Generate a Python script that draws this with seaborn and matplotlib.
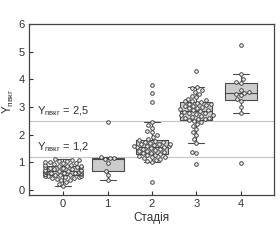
import numpy as np
import pandas as pd
import matplotlib
matplotlib.use("Agg")
import matplotlib.pyplot as plt
import seaborn as sns

stages = ["0", "1", "2", "3", "4"]
stage0 = [0.16, 0.22, 0.30, 0.35, 0.38, 0.40, 0.42, 0.45, 0.47, 0.48, 0.50, 0.51, 0.52, 0.53,
          0.55, 0.56, 0.57, 0.58, 0.59, 0.60, 0.61, 0.62, 0.63, 0.64, 0.65, 0.66, 0.67, 0.68,
          0.69, 0.70, 0.72, 0.73, 0.75, 0.76, 0.78, 0.80, 0.82, 0.84, 0.85, 0.86, 0.87, 0.88,
          0.90, 0.92, 0.94, 0.96, 0.98, 1.00, 1.02, 1.04, 1.06, 1.08, 1.10, 1.12]
stage1 = [0.38, 0.55, 0.70, 0.98, 1.12, 1.14, 1.17, 1.21, 2.47]
stage2 = [0.30, 1.00, 1.05, 1.10, 1.12, 1.15, 1.18, 1.20, 1.22, 1.25, 1.28, 1.30, 1.32, 1.35,
          1.38, 1.40, 1.42, 1.45, 1.48, 1.50, 1.52, 1.55, 1.55, 1.58, 1.60, 1.60, 1.62, 1.65,
          1.65, 1.68, 1.70, 1.72, 1.75, 1.78, 1.80, 1.85, 1.92, 2.00, 2.08, 2.15, 2.25, 2.35,
          2.45, 3.17, 3.51, 3.79]
stage3 = [0.94, 1.35, 1.36, 1.71, 1.85, 2.00, 2.10, 2.20, 2.30, 2.38, 2.45, 2.50, 2.52, 2.55,
          2.58, 2.60, 2.62, 2.65, 2.68, 2.70, 2.72, 2.75, 2.78, 2.80, 2.82, 2.85, 2.88, 2.90,
          2.92, 2.95, 2.98, 3.00, 3.02, 3.05, 3.08, 3.10, 3.12, 3.15, 3.18, 3.20, 3.22, 3.25,
          3.30, 3.35, 3.40, 3.48, 3.55, 3.62, 3.68, 3.73, 4.30]
stage4 = [0.99, 2.80, 3.00, 3.20, 3.30, 3.42, 3.48, 3.52, 3.55, 3.62, 3.85, 3.92, 4.00, 4.21, 5.23]
thresholds = [2.5, 1.2]
threshold_labels = ["2,5", "1,2"]

groups = [stage0, stage1, stage2, stage3, stage4]
df = pd.DataFrame({
    "stage": [s for s, g in zip(stages, groups) for _ in g],
    "value": [v for g in groups for v in g],
})

sns.set_style("white")
plt.rcParams["font.family"] = ["Liberation Sans", "DejaVu Sans"]
plt.rcParams["mathtext.fontset"] = "custom"
plt.rcParams["mathtext.rm"] = "Liberation Sans"
plt.rcParams["mathtext.it"] = "Liberation Sans"

fig = plt.figure(figsize=(2.8, 2.4), dpi=100)
ax = fig.add_axes([0.1036, 0.1875, 0.8750, 0.7125])

for t in thresholds:
    ax.axhline(t, color="#c4c4c4", lw=0.8, zorder=0)

sns.boxplot(data=df, x="stage", y="value", order=stages, color="#cccccc",
            linecolor="#4a4a4a", linewidth=0.8, width=0.72, showfliers=False,
            saturation=1, ax=ax)
sns.swarmplot(data=df, x="stage", y="value", order=stages, color="#f0f0f0",
              edgecolor="#3c3c3c", linewidth=0.65, size=2.6, ax=ax)

for t, lab in zip(thresholds, threshold_labels):
    ax.text(-0.58, t + 0.1, r"$\mathrm{Y}_{\mathrm{пвкг}}$" + " = " + lab,
            fontsize=8, color="#333333", va="bottom", ha="left")

ax.set_xlim(-0.77, 4.75)
ax.set_ylim(-0.18, 6)
ax.set_yticks(range(0, 7))
ax.set_xlabel("Стадія", fontsize=8.5, color="#333333", labelpad=2)
ax.set_ylabel(r"$\mathrm{Y}_{\mathrm{пвкг}}$", fontsize=8.5, color="#333333")
ax.yaxis.set_label_coords(-0.052, 0.55)
ax.tick_params(axis="both", direction="in", length=3, width=0.8, labelsize=8,
               colors="#333333", pad=3, left=True, bottom=True)
for sp in ax.spines.values():
    sp.set_visible(True)
    sp.set_color("#444444")
    sp.set_linewidth(0.9)

fig.savefig("out.png", dpi=100)
